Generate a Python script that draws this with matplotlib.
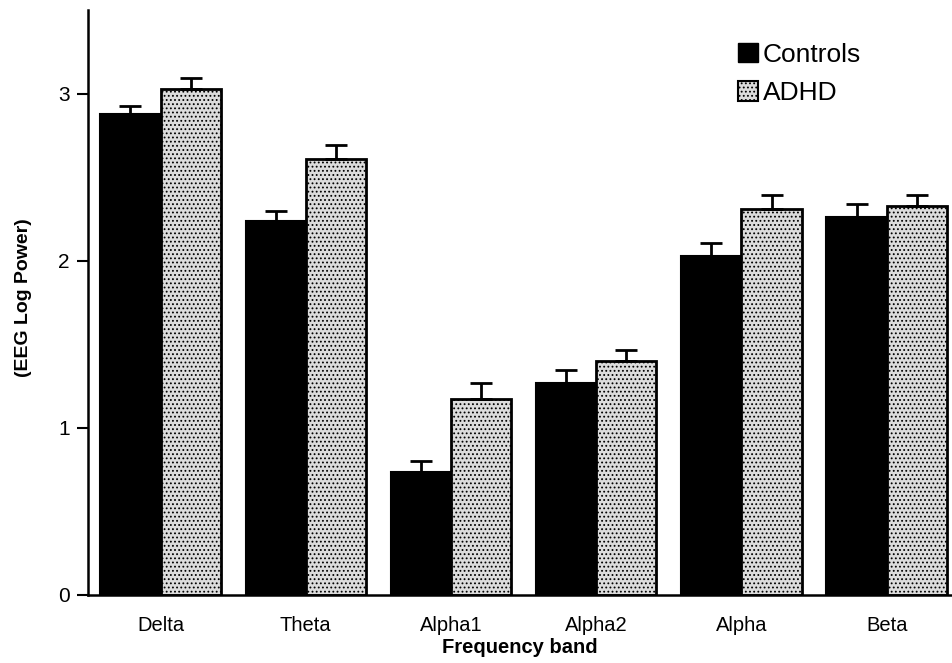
import numpy as np
import matplotlib
matplotlib.use("Agg")
import matplotlib.pyplot as plt
from matplotlib.patches import Patch

plt.rcParams['font.family'] = ['Liberation Sans', 'DejaVu Sans']
plt.rcParams['hatch.color'] = '#7a7a7a'
plt.rcParams['hatch.linewidth'] = 0.8

bands = ["Delta", "Theta", "Alpha1", "Alpha2", "Alpha", "Beta"]
controls = [2.88, 2.24, 0.735, 1.27, 2.03, 2.26]
controls_err = [0.045, 0.055, 0.065, 0.075, 0.075, 0.08]
adhd = [3.025, 2.61, 1.17, 1.40, 2.31, 2.33]
adhd_err = [0.07, 0.08, 0.10, 0.065, 0.08, 0.065]

fig = plt.figure(figsize=(9.52, 6.63), dpi=100)
ax = fig.add_axes([0.0924, 0.1026, 0.9076, 0.8824])

x = np.arange(len(bands))
w = 0.415

ax.bar(x - w/2, controls, w, color='black', edgecolor='black', linewidth=1.5,
       yerr=[np.zeros(len(bands)), controls_err], capsize=8,
       error_kw=dict(ecolor='black', elinewidth=2, capthick=2), zorder=2)
ax.bar(x + w/2, adhd, w, color='#dcdcdc', edgecolor='black', linewidth=2,
       hatch='....', yerr=[np.zeros(len(bands)), adhd_err], capsize=8,
       error_kw=dict(ecolor='black', elinewidth=2, capthick=2), zorder=2)

ax.set_xlim(-0.5, 5.45)
ax.set_ylim(0, 3.5)
ax.set_yticks([0, 1, 2, 3])
ax.set_xticks(x)
ax.set_xticklabels(bands, fontsize=14.5)
ax.tick_params(axis='y', labelsize=15, length=8, width=1.5, direction='out', pad=5)
ax.tick_params(axis='x', length=0, pad=15)

for side in ['top', 'right']:
    ax.spines[side].set_visible(False)
ax.spines['left'].set_linewidth(1.8)
ax.spines['bottom'].set_linewidth(1.8)

ax.set_ylabel("(EEG Log Power)", fontsize=14, fontweight='bold')
ax.yaxis.set_label_coords(-0.065, 0.509)
ax.set_xlabel("Frequency band", fontsize=14.5, fontweight='bold', labelpad=2)

handles = [Patch(facecolor='black', edgecolor='black', label='Controls'),
           Patch(facecolor='#dcdcdc', edgecolor='black', hatch='....', linewidth=1.5, label='ADHD')]
ax.legend(handles=handles, loc='upper left', bbox_to_anchor=(0.74, 0.962), frameon=False,
          fontsize=19, handlelength=0.75, handleheight=0.75, handletextpad=0.2,
          labelspacing=0.55, borderaxespad=0)

fig.savefig("out.png", dpi=100)
